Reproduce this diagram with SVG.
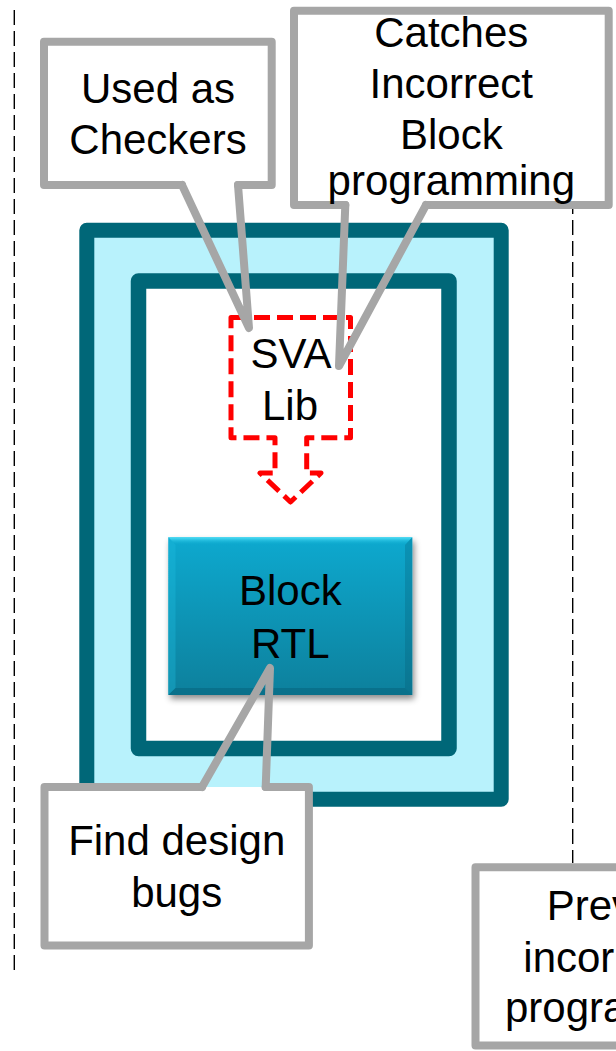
<svg xmlns="http://www.w3.org/2000/svg" width="616" height="1051" viewBox="0 0 616 1051">
  <style>
    .lbl { font-family: "Liberation Sans", Arial, sans-serif; font-size: 42px; fill: #000000; text-anchor: middle; }
    .lbl-start { font-family: "Liberation Sans", Arial, sans-serif; font-size: 42px; fill: #000000; text-anchor: start; }
    .divider { stroke: #000000; stroke-width: 1.4; stroke-dasharray: 15 6; fill: none; }
    .teal { stroke: #006778; stroke-linejoin: round; }
    .callout-fill { fill: #ffffff; stroke: none; }
    .callout-line { fill: none; stroke: #a6a6a6; stroke-width: 8; stroke-linejoin: round; stroke-linecap: round; }
    .sva { fill: #ffffff; stroke: #ff0000; stroke-width: 5; stroke-dasharray: 16 7; stroke-linejoin: round; }
  </style>
  <defs>
    <linearGradient id="rtlGrad" x1="0" y1="0" x2="0" y2="1">
      <stop offset="0" stop-color="#0aa9cf"/>
      <stop offset="1" stop-color="#07809c"/>
    </linearGradient>
    <linearGradient id="bevelTop" x1="0" y1="0" x2="0" y2="1">
      <stop offset="0" stop-color="#4fe0f8"/>
      <stop offset="1" stop-color="#0aabd1" stop-opacity="0"/>
    </linearGradient>
    <filter id="shadow" x="-10%" y="-10%" width="125%" height="130%">
      <feDropShadow dx="2" dy="4" stdDeviation="3" flood-color="#000000" flood-opacity="0.45"/>
    </filter>
  </defs>

  <g id="dividers">
    <line class="divider" x1="14.3" y1="10" x2="14.3" y2="976"/>
    <line class="divider" x1="572.7" y1="10" x2="572.7" y2="863"/>
  </g>

  <g id="outer-frame">
    <rect class="teal" x="86.8" y="230.2" width="414.4" height="569" fill="#b8f2fc" stroke-width="15"/>
  </g>

  <g id="inner-frame">
    <rect class="teal" x="138.5" y="281" width="310.5" height="467.5" fill="#ffffff" stroke-width="15.5"/>
  </g>

  <g id="block-rtl">
    <rect x="168.3" y="537.3" width="244" height="157.7" fill="url(#rtlGrad)" filter="url(#shadow)"/>
    <polygon points="168.3,537.3 412.3,537.3 405,545 175.5,545" fill="url(#bevelTop)"/>
    <polygon points="168.3,537.3 175.5,545 175.5,688 168.3,695" fill="#1fbedf" opacity="0.35"/>
    <polygon points="412.3,537.3 405,545 405,688 412.3,695" fill="#04546a" opacity="0.25"/>
    <polygon points="168.3,695 175.5,688 405,688 412.3,695" fill="#04546a" opacity="0.35"/>
    <text class="lbl" x="290.3" y="605">Block</text>
    <text class="lbl" x="290.3" y="657.7">RTL</text>
  </g>

  <g id="sva-lib">
    <path class="sva" d="M231,317.5 H350.5 V437.8 H306.7 V473 H321 L290.5,502 L260,473 H275 V437.8 H231 Z"/>
    <text class="lbl" x="291" y="368.3">SVA</text>
    <text class="lbl" x="290" y="420">Lib</text>
  </g>

  <g id="callout-checkers">
    <rect class="callout-fill" x="44" y="41.7" width="227.7" height="143.3"/>
    <path class="callout-line" d="M238,185 H271.7 V41.7 H44 V185 H182"/>
    <text class="lbl" x="158" y="103.3">Used as</text>
    <text class="lbl" x="158" y="154">Checkers</text>
  </g>

  <g id="callout-catches">
    <rect class="callout-fill" x="294" y="10.7" width="314.7" height="194.3"/>
    <path class="callout-line" d="M426,205 H608.7 V10.7 H294 V205 H345.3"/>
    <text class="lbl" x="451.3" y="46.7">Catches</text>
    <text class="lbl" x="451.3" y="98">Incorrect</text>
    <text class="lbl" x="451.3" y="148.5">Block</text>
    <text class="lbl" x="451.3" y="195">programming</text>
  </g>

  <g id="callout-bugs">
    <rect class="callout-fill" x="44.5" y="787" width="264.4" height="158.5"/>
    <path class="callout-line" d="M202,787 H44.5 V945.5 H308.9 V787 H265.7"/>
    <text class="lbl" x="176.7" y="855">Find design</text>
    <text class="lbl" x="176.7" y="906.7">bugs</text>
  </g>

  <g id="callout-prevents">
    <rect class="callout-fill" x="475.5" y="867.3" width="141" height="178.2"/>
    <path class="callout-line" d="M620,867.3 H475.5 V1045.5 H620"/>
    <text class="lbl-start" x="546.7" y="920">Prev</text>
    <text class="lbl-start" x="523.3" y="971.7">incor</text>
    <text class="lbl-start" x="505" y="1022">progra</text>
  </g>

  <g id="connectors">
    <polyline class="callout-line" points="182,185 249,328 238,185"/>
    <polyline class="callout-line" points="345.3,205 339,366 426,205"/>
    <polyline class="callout-line" points="202,787 270,668 265.7,787"/>
  </g>
</svg>
